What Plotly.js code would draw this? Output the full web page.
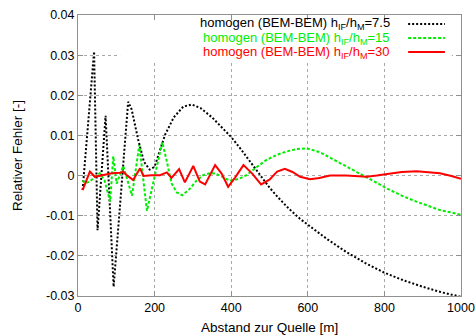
<!DOCTYPE html>
<html>
<head>
<meta charset="utf-8">
<script src="https://cdn.plot.ly/plotly-3.0.1.min.js"></script>
<style>html,body{margin:0;padding:0;background:#fff;}#chart{width:475px;height:336px;}</style>
</head>
<body>
<div id="chart"></div>
<script>
// Series: relative error vs distance to source
const xBlack = [12,42,51,72,93,131,140,157,172,187,200,227,250,275,297,320,350,375,400,425,450,475,500,523,550,580,600,632,650,700,750,800,850,900,950,1000];
const yBlack = [-0.0036,0.0309,-0.0136,0.0149,-0.0277,0.0184,0.0165,0.0090,0.0035,0.0015,0.0022,0.0101,0.0145,0.0172,0.0177,0.0168,0.0145,0.0121,0.0096,0.0066,0.0033,0.0000,-0.0030,-0.0055,-0.0082,-0.0108,-0.0122,-0.0146,-0.0158,-0.0190,-0.0218,-0.0242,-0.0261,-0.0277,-0.0291,-0.0302];

const xGreen = [12,18,31,44,57,69,84,92,101,118,141,160,180,200,220,232,244,258,272,290,310,327,345,360,380,397,420,440,465,492,520,545,570,597,632,660,693,720,754,780,806,850,884,920,945,975,1000];
const yGreen = [-0.0012,-0.0019,-0.0015,-0.0003,0.0006,-0.0011,-0.0065,0.0048,-0.0020,0.0024,-0.0050,0.0076,-0.0088,-0.0003,0.0083,0.0035,-0.0019,-0.0042,-0.0049,-0.0035,-0.0012,0.0001,0.0006,0.0005,-0.0005,-0.0013,-0.0008,0.0001,0.0020,0.0039,0.0052,0.0060,0.0066,0.0068,0.0058,0.0044,0.0026,0.0012,-0.0003,-0.0018,-0.0032,-0.0052,-0.0065,-0.0077,-0.0086,-0.0092,-0.0098];

const xRed = [12,31,44,62,88,110,118,127,144,162,171,192,214,232,244,264,279,301,318,332,358,375,392,410,432,455,478,500,520,540,560,580,606,630,658,700,754,780,806,845,884,920,945,975,1000];
const yRed = [-0.0036,0.0010,-0.0003,0.0001,0.0006,0.0007,0.0010,0.0001,-0.0011,0.0018,-0.0001,0.0001,0.0001,0.0008,-0.0006,0.0016,-0.0017,0.0024,-0.0015,-0.0022,0.0026,0.0005,-0.0028,-0.0005,0.0026,0.0005,-0.0022,-0.0010,0.0010,0.0017,0.0009,-0.0003,-0.0009,-0.0006,0.0000,0.0000,-0.0003,0.0000,0.0004,0.0009,0.0011,0.0009,0.0006,-0.0001,-0.0008];

const legendLabels = [
  "homogen (BEM-BEM) h<sub>IF</sub>/h<sub>M</sub>=7.5",
  "homogen (BEM-BEM) h<sub>IF</sub>/h<sub>M</sub>=15",
  "homogen (BEM-BEM) h<sub>IF</sub>/h<sub>M</sub>=30"
];
const colors = ["#000000", "#00ee00", "#ff0000"];
const dashes = ["2px,2px", "3px,2px", "solid"];

const xTicks = [0,200,400,600,800,1000];
const yTicks = [-0.03,-0.02,-0.01,0,0.01,0.02,0.03,0.04];
const yTickText = ["-0.03","-0.02","-0.01","0","0.01","0.02","0.03","0.04"];
const xTitle = 'Abstand zur Quelle [m]';
const yTitle = 'Relativer Fehler [-]';

const series = [[xBlack,yBlack],[xGreen,yGreen],[xRed,yRed]];
const traces = series.map((s,i)=>({
  x: s[0], y: s[1], type: 'scatter', mode: 'lines', name: legendLabels[i],
  showlegend: false,
  line: {color: colors[i], width: 2, dash: dashes[i]}
}));

const legY = [0.968, 0.918, 0.868];
const annotations = legendLabels.map((t,i)=>({
  xref:'paper', yref:'paper', x:0.820, y:legY[i], xanchor:'right', yanchor:'middle',
  text:t, showarrow:false, font:{family:'Liberation Sans, Arial, sans-serif', size:13, color:colors[i]}
}));
annotations.push({xref:'paper', yref:'paper', x:0.5, y:-0.113, xanchor:'center', yanchor:'middle',
  text:xTitle, showarrow:false, font:{family:'Liberation Sans, Arial, sans-serif', size:13.5, color:'#000'}});
const shapes = [{type:'rect', xref:'paper', yref:'paper', x0:0.11, x1:0.976, y0:0.833, y1:0.979,
  fillcolor:'#ffffff', line:{width:0}, layer:'above'}];
legY.forEach((y,i)=>{
  shapes.push({type:'line', xref:'paper', yref:'paper', x0:0.862, x1:0.958, y0:y, y1:y,
    line:{color:colors[i], width:2, dash:dashes[i]}, layer:'above'});
});

const axisCommon = {
  showgrid:true, gridcolor:'#a8a8a8', griddash:'dot', gridwidth:1,
  zeroline:false, showline:true, linecolor:'#909090', linewidth:1, mirror:'ticks',
  ticks:'inside', ticklen:5, tickcolor:'#909090',
  tickfont:{family:'Liberation Sans, Arial, sans-serif', size:12.5, color:'#000'}
};

const layout = {
  width:475, height:336,
  margin:{l:78, r:14, t:15, b:40},
  paper_bgcolor:'#fff', plot_bgcolor:'#fff',
  font:{family:'Liberation Sans, Arial, sans-serif', size:12, color:'#000'},
  xaxis: Object.assign({}, axisCommon, {
    range:[0,1000], tickvals:xTicks, ticktext:xTicks.map(String)
  }),
  yaxis: Object.assign({}, axisCommon, {
    range:[-0.03,0.04], tickvals:yTicks, ticktext:yTickText,
    title:{text:yTitle, standoff:20, font:{size:13.5}}
  }),
  annotations: annotations,
  shapes: shapes
};

Plotly.newPlot('chart', traces, layout, {staticPlot:true, displayModeBar:false});
</script>
</body>
</html>
